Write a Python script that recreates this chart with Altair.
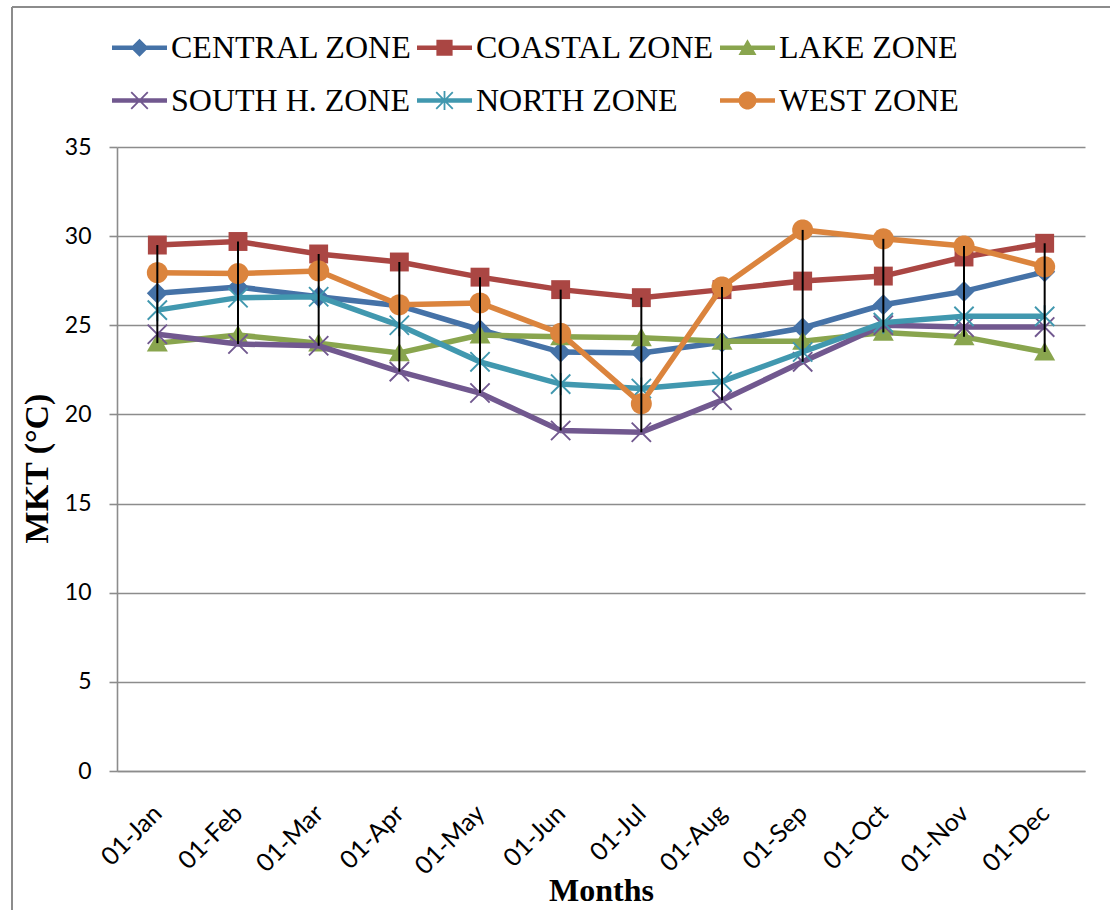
import math
import altair as alt
import pandas as pd

# Monthly mean kinetic temperature per climatic zone
months = ["01-Jan", "01-Feb", "01-Mar", "01-Apr", "01-May", "01-Jun",
          "01-Jul", "01-Aug", "01-Sep", "01-Oct", "01-Nov", "01-Dec"]
zones = ["CENTRAL ZONE", "COASTAL ZONE", "LAKE ZONE",
         "SOUTH H. ZONE", "NORTH ZONE", "WEST ZONE"]

central = [26.8, 27.15, 26.6, 26.1, 24.75, 23.5, 23.45, 24.05, 24.85, 26.15, 26.9, 28.0]
coastal = [29.5, 29.7, 29.0, 28.55, 27.7, 27.0, 26.55, 27.0, 27.48, 27.76, 28.83, 29.6]
lake = [24.0, 24.45, 24.0, 23.45, 24.45, 24.35, 24.3, 24.1, 24.1, 24.6, 24.35, 23.5]
south_h = [24.5, 23.95, 23.85, 22.4, 21.2, 19.1, 19.0, 20.8, 22.95, 25.0, 24.9, 24.9]
north = [25.85, 26.55, 26.6, 25.0, 22.95, 21.7, 21.45, 21.85, 23.5, 25.15, 25.5, 25.5]
west = [27.95, 27.9, 28.05, 26.15, 26.25, 24.55, 20.6, 27.15, 30.35, 29.85, 29.45, 28.28]

colors = ["#4572A7", "#AA4643", "#89A54E", "#71588F", "#4198AF", "#DB843D"]
marker_kinds = ["diamond", "square", "triangle", "x", "asterisk", "circle"]

series = [central, coastal, lake, south_h, north, west]
records = []
for zone, values in zip(zones, series):
    for i, (month, value) in enumerate(zip(months, values)):
        records.append({"zone": zone, "month": month, "idx": i, "mkt": value})
df = pd.DataFrame(records)


# ---- marker geometry (pixel units, normalised to Vega's -1..1 symbol box)
def _oriented(pts):
    area = sum(x1 * y2 - x2 * y1 for (x1, y1), (x2, y2) in zip(pts, pts[1:] + pts[:1]))
    return pts if area > 0 else pts[::-1]


def _bar(angle_deg, half_len, half_w):
    a = math.radians(angle_deg)
    dx, dy = math.cos(a), math.sin(a)
    px, py = -dy, dx
    return [(half_len * dx + half_w * px, half_len * dy + half_w * py),
            (half_len * dx - half_w * px, half_len * dy - half_w * py),
            (-half_len * dx - half_w * px, -half_len * dy - half_w * py),
            (-half_len * dx + half_w * px, -half_len * dy + half_w * py)]


def marker_polys(kind, s):
    if kind == "diamond":
        return [[(0, -s), (s, 0), (0, s), (-s, 0)]]
    if kind == "square":
        q = s * 0.9
        return [[(-q, -q), (q, -q), (q, q), (-q, q)]]
    if kind == "triangle":
        return [[(0, -s * 0.95), (s, s * 0.8), (-s, s * 0.8)]]
    if kind == "circle":
        return [[(s * math.cos(2 * math.pi * i / 40), s * math.sin(2 * math.pi * i / 40))
                 for i in range(40)]]
    w = max(0.9, s * 0.09)
    arms = [_bar(45, s * 1.3, w), _bar(-45, s * 1.3, w)]
    if kind == "asterisk":
        arms.append(_bar(90, s * 1.05, w))
    return arms


def to_path(polys, r):
    parts = []
    for pts in polys:
        pts = _oriented(pts)
        parts.append("M" + "L".join(f"{x / r:.4f},{y / r:.4f}" for x, y in pts) + "Z")
    return "".join(parts)


PLOT_SIZE = 484          # r = 11 px
LEGEND_SIZE = 3025       # r = 27.5 px -> 55 px long legend line
r_plot = math.sqrt(PLOT_SIZE) / 2
r_leg = math.sqrt(LEGEND_SIZE) / 2

plot_paths = [to_path(marker_polys(k, 10.5), r_plot) for k in marker_kinds]
legend_line = [[(-r_leg, -2.2), (r_leg, -2.2), (r_leg, 2.2), (-r_leg, 2.2)]]
legend_paths = [to_path(legend_line + marker_polys(k, 9.0), r_leg) for k in marker_kinds]

# ---- shared encodings
x_scale = alt.Scale(type="point", padding=0.5)
x_axis = alt.Axis(labelAngle=315, labelAlign="right", labelBaseline="middle",
                  labelPadding=38, ticks=False, tickSize=0, grid=False,
                  labelFont="Lato", labelFontSize=25, labelColor="black",
                  titleFont="Liberation Serif", titleFontSize=32, titleFontWeight="bold",
                  titleColor="black", titleY=129, titleBaseline="alphabetic")
y_scale = alt.Scale(domain=[0, 35], nice=False, zero=True)
y_axis = alt.Axis(values=[0, 5, 10, 15, 20, 25, 30, 35], grid=True, tickSize=8,
                  labelPadding=18, labelFont="Lato", labelFontSize=23, labelColor="black",
                  titleFont="Liberation Serif", titleFontSize=34, titleFontWeight="bold",
                  titleColor="black", titleAngle=270, titleX=-80, titleY=321,
                  titleAlign="center", titleBaseline="middle")

X = alt.X("month:N", sort=months, scale=x_scale, axis=x_axis, title="Months")
Y = alt.Y("mkt:Q", scale=y_scale, axis=y_axis, title="MKT (°C)")

base = alt.Chart(df)

# outer chart frame (left and top edges; the others fall outside the page)
frame_src = alt.Chart(alt.Data(values=[{}]))
frame_left = frame_src.mark_rule(color="#8C8C8C", strokeWidth=2).encode(
    x=alt.value(-105), y=alt.value(-140), y2=alt.value(790))
frame_top = frame_src.mark_rule(color="#8C8C8C", strokeWidth=2).encode(
    x=alt.value(-105), x2=alt.value(993), y=alt.value(-140))

layers = [frame_left, frame_top]
for zone, col, path in zip(zones, colors, plot_paths):
    sub = base.transform_filter(alt.datum.zone == zone)
    layers.append(sub.mark_line(strokeWidth=5.5, color=col).encode(
        x=X, y=Y, order=alt.Order("idx:Q")))
    layers.append(sub.mark_point(shape=path, filled=True, size=PLOT_SIZE, color=col,
                                 strokeWidth=0, opacity=1).encode(x=X, y=Y))

# high-low lines spanning each month's extremes
hilo = base.transform_aggregate(
    lo="min(mkt)", hi="max(mkt)", groupby=["month"]
).mark_rule(color="black", strokeWidth=2).encode(
    x=X, y=alt.Y("lo:Q", scale=y_scale, axis=y_axis, title="MKT (°C)"), y2="hi:Q")
layers.append(hilo)

legend_def = alt.Legend(
    orient="none", legendX=-5, legendY=-127, direction="horizontal", columns=3,
    title=None, symbolSize=LEGEND_SIZE, symbolStrokeWidth=0, symbolOpacity=1,
    labelFont="Liberation Serif", labelFontSize=32, labelColor="black",
    labelOffset=4, labelLimit=400, columnPadding=5, rowPadding=9, padding=0)

# invisible layer that only feeds the line+marker legend
legend_layer = base.mark_point(filled=True, opacity=0, size=10).encode(
    x=X, y=Y,
    fill=alt.Fill("zone:N", scale=alt.Scale(domain=zones, range=colors), legend=legend_def),
    shape=alt.Shape("zone:N", scale=alt.Scale(domain=zones, range=legend_paths), legend=legend_def),
)
layers.append(legend_layer)

chart = alt.layer(*layers).properties(
    width=968, height=624,
    padding={"left": 11, "top": 6, "right": 0, "bottom": 0},
    background="white",
).configure_view(stroke="transparent").configure_axis(
    gridColor="#8C8C8C", gridWidth=1.6, domainColor="#8C8C8C", domainWidth=1.6,
    tickColor="#8C8C8C", tickWidth=1.6,
)

chart.save("out.html", embed_options={"renderer": "svg", "actions": False})
